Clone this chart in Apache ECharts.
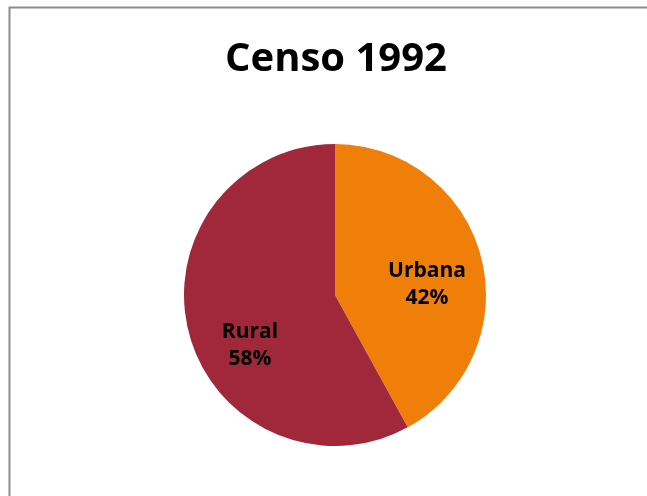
<!DOCTYPE html>
<html>
<head>
<meta charset="utf-8">
<script src="https://cdn.jsdelivr.net/npm/echarts@6/dist/echarts.min.js"></script>
<style>
  html, body { margin: 0; padding: 0; background: #fff; }
  #chart { width: 647px; height: 496px; }
</style>
</head>
<body>
<div id="chart"></div>
<script>
const titleText = 'Censo 1992'
const categories = ['Urbana', 'Rural']
const values = [42, 58]
const colors = ['#F07F09', '#A0283A']

const chart = echarts.init(document.getElementById('chart'))

const option = {
  backgroundColor: '#fff',
  animation: false,
  title: {
    text: titleText,
    left: 331,
    textAlign: 'center',
    top: 35,
    textStyle: {
      fontFamily: 'Open Sans',
      fontWeight: 'bold',
      fontSize: 40,
      color: '#000'
    }
  },
  graphic: [{
    type: 'rect',
    shape: { x: 9.5, y: 7.5, width: 700, height: 600 },
    style: { fill: 'none', stroke: '#8c8c8c', lineWidth: 2 },
    silent: true
  }],
  series: [{
    type: 'pie',
    center: [335, 295],
    radius: 151,
    startAngle: 90,
    clockwise: true,
    label: {
      position: 'inside',
      formatter: '{b}\n{d}%',
      fontFamily: 'Open Sans',
      fontWeight: 'bold',
      fontSize: 21,
      lineHeight: 27,
      color: '#000'
    },
    labelLine: { show: false },
    itemStyle: { borderWidth: 0 },
    emphasis: { disabled: true },
    data: categories.map((name, i) => ({
      name,
      value: values[i],
      itemStyle: { color: colors[i] },
      label: { offset: i === 0 ? [16, 9] : [-9, 31] }
    }))
  }]
}

chart.setOption(option)
</script>
</body>
</html>
